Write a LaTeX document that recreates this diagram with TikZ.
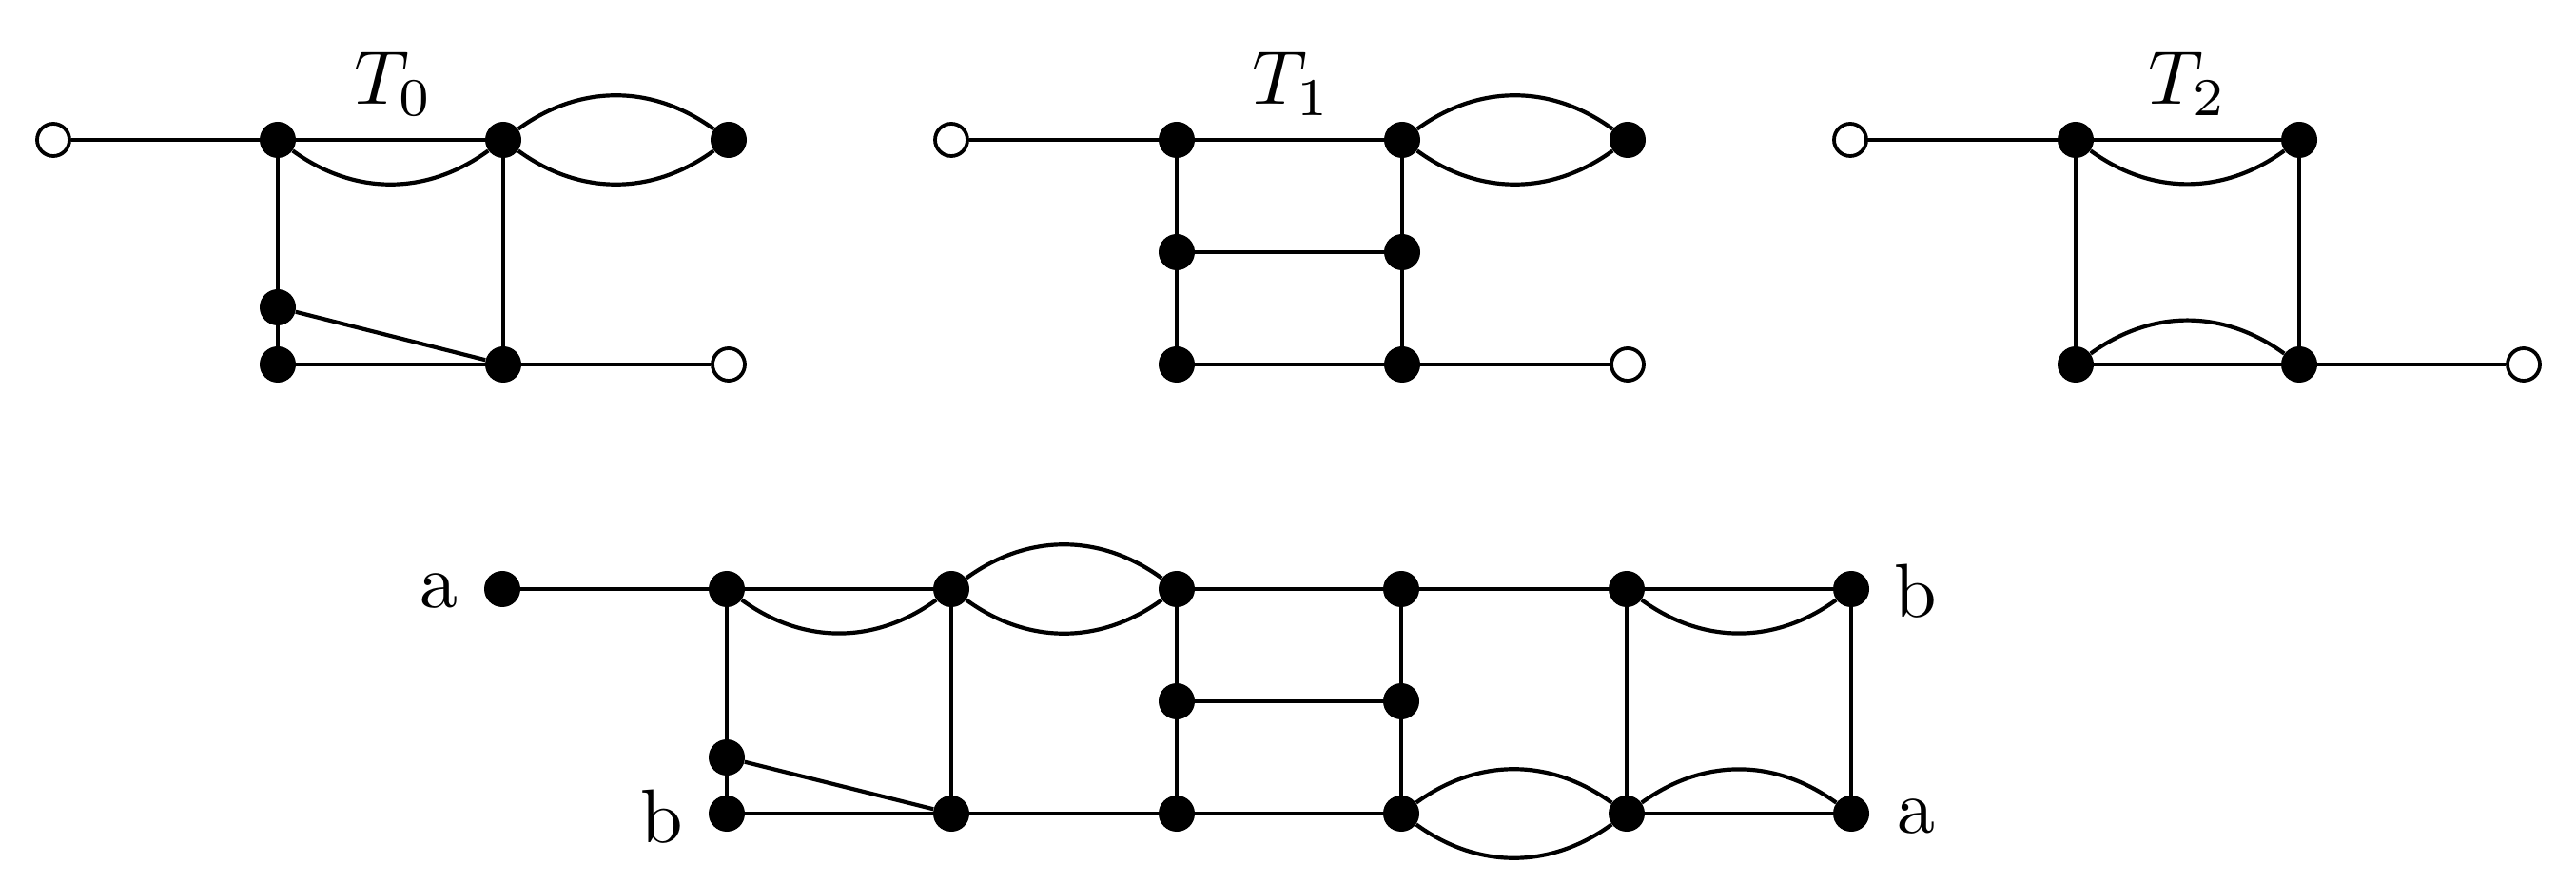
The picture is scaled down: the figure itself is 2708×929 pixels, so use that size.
\documentclass[tikz,border=0pt]{standalone}
\begin{document}
\begin{tikzpicture}[x=0.5pt,y=0.5pt,
  fv/.style={circle,fill=black,minimum size=19pt,inner sep=0pt},
  ov/.style={circle,draw=black,fill=white,line width=1.9pt,minimum size=17pt,inner sep=0pt},
  ln/.style={line width=2.1pt},
  lbl/.style={inner sep=0pt},
  bl/.style={bend left=36},
  br/.style={bend right=36}]
\useasboundingbox (0,0) rectangle (2708,-929);
% ---------- T0 ----------
\node[ov] (t0o1) at (56,-147) {};
\node[fv] (t0a) at (292,-147) {};
\node[fv] (t0b) at (529,-147) {};
\node[fv] (t0c) at (766,-147) {};
\node[fv] (t0d) at (292,-323) {};
\node[fv] (t0e) at (292,-383) {};
\node[fv] (t0f) at (529,-383) {};
\node[ov] (t0o2) at (766,-383) {};
\node[lbl] (t0l) at (414,-88) {\scalebox{4}{$T_0$}};
\draw[ln] (t0o1) -- (t0a) -- (t0b);
\draw[ln] (t0a) to[br] (t0b);
\draw[ln] (t0b) to[bl] (t0c);
\draw[ln] (t0b) to[br] (t0c);
\draw[ln] (t0a) -- (t0d) -- (t0e) -- (t0f) -- (t0o2);
\draw[ln] (t0d) -- (t0f);
\draw[ln] (t0b) -- (t0f);
% ---------- T1 ----------
\node[ov] (t1o1) at (1000,-147) {};
\node[fv] (t1a) at (1237,-147) {};
\node[fv] (t1b) at (1474,-147) {};
\node[fv] (t1c) at (1711,-147) {};
\node[fv] (t1d) at (1237,-265) {};
\node[fv] (t1e) at (1474,-265) {};
\node[fv] (t1f) at (1237,-383) {};
\node[fv] (t1g) at (1474,-383) {};
\node[ov] (t1o2) at (1711,-383) {};
\node[lbl] (t1l) at (1358,-88) {\scalebox{4}{$T_1$}};
\draw[ln] (t1o1) -- (t1a) -- (t1b);
\draw[ln] (t1b) to[bl] (t1c);
\draw[ln] (t1b) to[br] (t1c);
\draw[ln] (t1a) -- (t1d) -- (t1f) -- (t1g) -- (t1o2);
\draw[ln] (t1b) -- (t1e) -- (t1g);
\draw[ln] (t1d) -- (t1e);
% ---------- T2 ----------
\node[ov] (t2o1) at (1945,-147) {};
\node[fv] (t2a) at (2182,-147) {};
\node[fv] (t2b) at (2417,-147) {};
\node[fv] (t2c) at (2182,-383) {};
\node[fv] (t2d) at (2417,-383) {};
\node[ov] (t2o2) at (2653,-383) {};
\node[lbl] (t2l) at (2300,-88) {\scalebox{4}{$T_2$}};
\draw[ln] (t2o1) -- (t2a) -- (t2b);
\draw[ln] (t2a) to[br] (t2b);
\draw[ln] (t2a) -- (t2c) -- (t2d) -- (t2o2);
\draw[ln] (t2b) -- (t2d);
\draw[ln] (t2c) to[bl] (t2d);
% ---------- composite ----------
\node[fv] (na) at (528,-619) {};
\node[fv] (p1) at (764,-619) {};
\node[fv] (p2) at (1000,-619) {};
\node[fv] (p3) at (1237,-619) {};
\node[fv] (p4) at (1473,-619) {};
\node[fv] (p5) at (1710,-619) {};
\node[fv] (p6) at (1946,-619) {};
\node[fv] (m3) at (1237,-737) {};
\node[fv] (m4) at (1473,-737) {};
\node[fv] (d1) at (764,-796) {};
\node[fv] (q1) at (764,-855) {};
\node[fv] (q2) at (1000,-855) {};
\node[fv] (q3) at (1237,-855) {};
\node[fv] (q4) at (1473,-855) {};
\node[fv] (q5) at (1710,-855) {};
\node[fv] (q6) at (1946,-855) {};
\node[lbl] (la1) at (461,-621) {\scalebox{4}{a}};
\node[lbl] (lb1) at (696,-858) {\scalebox{4}{b}};
\node[lbl] (lb2) at (2014,-621) {\scalebox{4}{b}};
\node[lbl] (la2) at (2014,-858) {\scalebox{4}{a}};
\draw[ln] (na) -- (p1) -- (p2);
\draw[ln] (p1) to[br] (p2);
\draw[ln] (p2) to[bl] (p3);
\draw[ln] (p2) to[br] (p3);
\draw[ln] (p3) -- (p4) -- (p5) -- (p6);
\draw[ln] (p5) to[br] (p6);
\draw[ln] (p1) -- (d1) -- (q1);
\draw[ln] (d1) -- (q2);
\draw[ln] (p2) -- (q2);
\draw[ln] (p3) -- (m3) -- (q3);
\draw[ln] (p4) -- (m4) -- (q4);
\draw[ln] (m3) -- (m4);
\draw[ln] (p5) -- (q5);
\draw[ln] (p6) -- (q6);
\draw[ln] (q1) -- (q2) -- (q3) -- (q4);
\draw[ln] (q4) to[bl] (q5);
\draw[ln] (q4) to[br] (q5);
\draw[ln] (q5) -- (q6);
\draw[ln] (q5) to[bl] (q6);
\end{tikzpicture}
\end{document}
